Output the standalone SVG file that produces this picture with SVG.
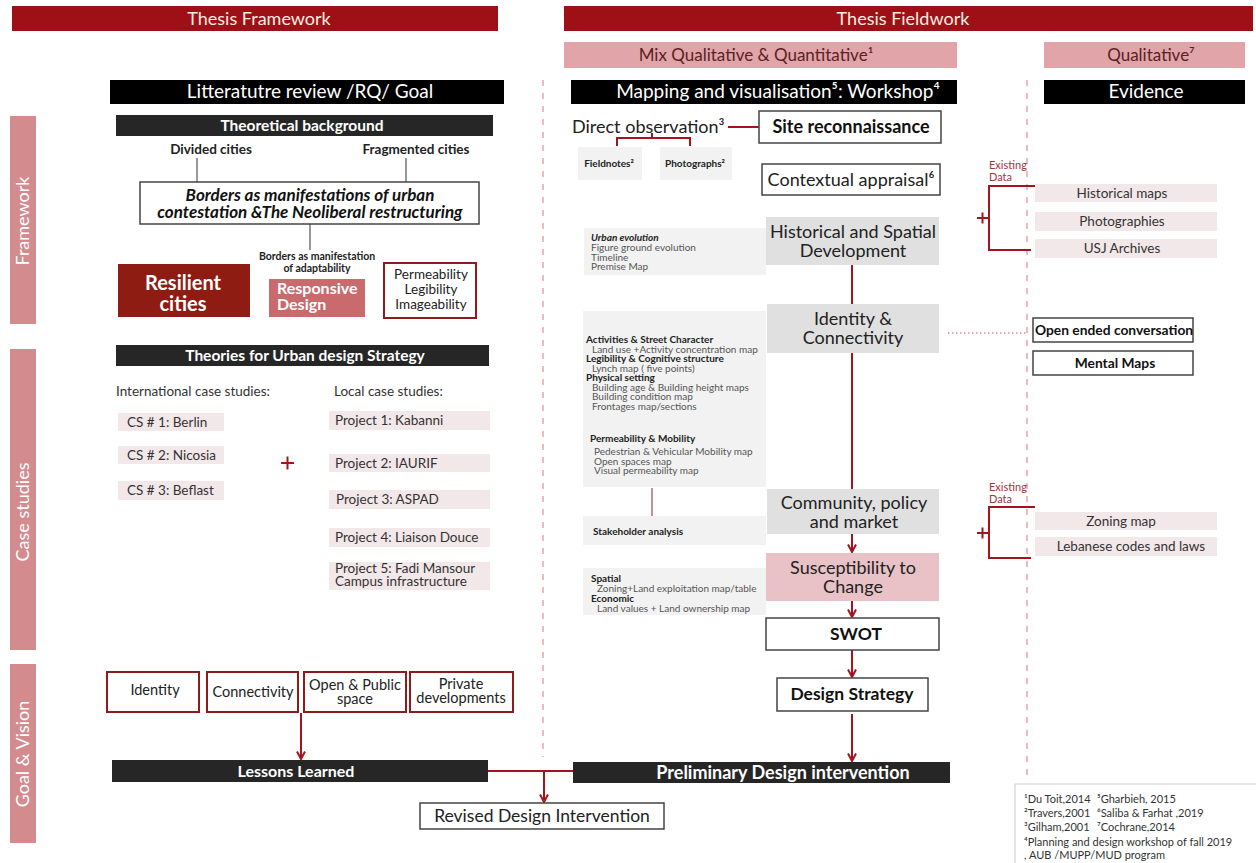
<svg xmlns="http://www.w3.org/2000/svg" width="1256" height="863" viewBox="0 0 1256 863">
<defs>
<marker id="ah" viewBox="0 0 10 10" refX="9" refY="5" markerWidth="10" markerHeight="10" markerUnits="userSpaceOnUse" orient="auto">
<path d="M1.5,1 L9,5 L1.5,9" fill="none" stroke="#a3141c" stroke-width="2"/>
</marker>
<style>
text{font-family:Lato,"Open Sans","Liberation Sans",sans-serif}
.c{text-anchor:middle}
.b{font-weight:bold}
.w{fill:#fff}
.red{fill:#9e1016}
.pink{fill:#e0a4a9}
.blk{fill:#000}
.dk{fill:#262626}
.side{fill:#d38b8e}
.box{fill:#fff;stroke:#444;stroke-width:1.5}
.rbox{fill:#fff;stroke:#8e1c1c;stroke-width:2}
.g1{fill:#e0e0e0}
.g2{fill:#f2f2f2}
.pk{fill:#f2e8ea}
.ln{stroke:#a3141c;stroke-width:2;fill:none}
.gl{stroke:#555;stroke-width:1.2;fill:none}
.dash{stroke:#e8a5ab;stroke-width:1.5;stroke-dasharray:6 7;fill:none}
.hd{font-size:18px;fill:#fbeee0}
.pt{font-size:17px;fill:#5a2222}
.bt{font-size:19px;fill:#fff}
.sm{font-size:10px;fill:#555}
.smb{font-size:10px;fill:#222;font-weight:bold}
.m{font-size:18px;fill:#222}
.cs{font-size:13.5px;fill:#333}
.ed{font-size:11px;fill:#a3343c}
.fn{font-size:11px;fill:#333}
.gv{font-size:14.5px;fill:#222}
</style>
</defs>

<!-- dashed separators -->
<g id="separators">
<line class="dash" x1="543" y1="80" x2="543" y2="757"/>
<line class="dash" x1="1027" y1="80" x2="1027" y2="780"/>
</g>

<!-- headers -->
<g id="hdr-framework"><rect class="red" x="12" y="6" width="486" height="25"/><text class="hd c" x="259" y="24.5">Thesis Framework</text></g>
<g id="hdr-fieldwork"><rect class="red" x="564" y="6" width="689" height="25"/><text class="hd c" x="903" y="24.5">Thesis Fieldwork</text></g>
<g id="hdr-mix"><rect class="pink" x="564" y="42" width="393" height="26"/><text class="pt c" x="756" y="61">Mix Qualitative &amp; Quantitative¹</text></g>
<g id="hdr-qual"><rect class="pink" x="1044" y="42" width="201" height="26"/><text class="pt c" x="1151" y="61">Qualitative⁷</text></g>
<g id="hdr-lit"><rect class="blk" x="110" y="80" width="394" height="24"/><text class="bt c" x="310" y="98">Litteratutre review /RQ/ Goal</text></g>
<g id="hdr-map"><rect class="blk" x="571" y="80" width="386" height="24"/><text class="bt c" x="778" y="98">Mapping and visualisation⁵: Workshop⁴</text></g>
<g id="hdr-evidence"><rect class="blk" x="1044" y="80" width="201" height="24"/><text class="bt c" x="1146" y="98">Evidence</text></g>

<!-- side labels -->
<g id="side-framework"><rect class="side" x="10" y="116" width="26" height="208"/><text class="w c" font-size="18" transform="translate(29,221) rotate(-90)">Framework</text></g>
<g id="side-case"><rect class="side" x="10" y="349" width="26" height="301"/><text class="w c" font-size="18" transform="translate(29,512) rotate(-90)">Case studies</text></g>
<g id="side-goal"><rect class="side" x="10" y="664" width="26" height="179"/><text class="w c" font-size="18" transform="translate(29,754) rotate(-90)">Goal &amp; Vision</text></g>

<!-- connectors -->
<g id="connectors">
<line class="gl" x1="197" y1="158" x2="197" y2="182"/>
<line class="gl" x1="406" y1="158" x2="406" y2="182"/>
<line class="gl" x1="310" y1="224" x2="310" y2="250"/>
<polyline class="ln" stroke-width="1.5" points="728,127 759,127"/>
<polyline class="ln" stroke-width="1.5" points="652,133 652,138"/>
<polyline class="ln" stroke-width="1.5" points="617,146 617,138 690,138 690,146"/>
<line class="ln" x1="852" y1="265" x2="852" y2="304"/>
<line class="ln" x1="852" y1="353" x2="852" y2="489"/>
<line x1="652" y1="488" x2="652" y2="516" stroke="#b76b74" stroke-width="1.5"/>
<line class="ln" x1="852" y1="534" x2="852" y2="552" marker-end="url(#ah)"/>
<line class="ln" x1="852" y1="601" x2="852" y2="617" marker-end="url(#ah)"/>
<line class="ln" x1="852" y1="650" x2="852" y2="677" marker-end="url(#ah)"/>
<line class="ln" x1="852" y1="714" x2="852" y2="761" marker-end="url(#ah)"/>
<line x1="948" y1="333" x2="1026" y2="333" stroke="#c4545c" stroke-width="1.2" stroke-dasharray="1.5 2.5"/>
<polyline class="ln" stroke-width="2" points="1035,186 989,186 989,250 1031,250"/>
<polyline class="ln" stroke-width="2" points="1035,507 989,507 989,558 1031,558"/>
<line class="ln" x1="301" y1="713" x2="301" y2="759" marker-end="url(#ah)"/>
<line class="ln" x1="488" y1="771" x2="573" y2="771"/>
<line class="ln" x1="544" y1="771" x2="544" y2="802" marker-end="url(#ah)"/>
</g>

<!-- plus signs -->
<g id="plus-case"><path class="ln" stroke-width="2.5" d="M281,463 H294 M287.5,456.5 V469.5"/></g>
<g id="plus-ev1"><path class="ln" stroke-width="2" d="M977,218 H988 M982.5,212.5 V223.5"/></g>
<g id="plus-ev2"><path class="ln" stroke-width="2" d="M977,533 H988 M982.5,527.5 V538.5"/></g>

<!-- Framework section -->
<g id="theoretical"><rect class="dk" x="116" y="115" width="377" height="21"/><text class="w b c" font-size="15.5" x="302" y="131">Theoretical background</text></g>
<g id="divided"><text class="b c" font-size="13.5" fill="#222" x="211" y="154">Divided cities</text></g>
<g id="fragmented"><text class="b c" font-size="13.5" fill="#222" x="416" y="154">Fragmented cities</text></g>
<g id="borders"><rect class="box" x="140" y="182" width="339" height="42"/>
<text class="b c" font-size="17" font-style="italic" fill="#111" x="310" y="201">Borders as manifestations of urban</text>
<text class="b c" font-size="17" font-style="italic" fill="#111" x="310" y="218">contestation &amp;The Neoliberal restructuring</text></g>
<g id="adapt"><text class="b c" font-size="10.5" fill="#222" x="317" y="260">Borders as manifestation</text><text class="b c" font-size="10.5" fill="#222" x="317" y="272">of adaptability</text></g>
<g id="resilient"><rect x="118" y="264" width="132" height="53" fill="#8e1c12"/><text class="w b c" font-size="20" x="183" y="290">Resilient</text><text class="w b c" font-size="20" x="183" y="311">cities</text></g>
<g id="responsive"><rect x="269" y="279" width="96" height="38" fill="#c96b6d"/><text class="w b" font-size="16" x="277" y="294">Responsive</text><text class="w b" font-size="16" x="277" y="310">Design</text></g>
<g id="permeability"><rect class="rbox" x="384" y="263" width="92" height="55"/><text class="c" font-size="13.5" fill="#222" x="431" y="279">Permeability</text><text class="c" font-size="13.5" fill="#222" x="431" y="294">Legibility</text><text class="c" font-size="13.5" fill="#222" x="431" y="309">Imageability</text></g>

<!-- Case studies section -->
<g id="theories"><rect class="dk" x="116" y="345" width="373" height="21"/><text class="w b c" font-size="15.5" x="305" y="361">Theories for Urban design Strategy</text></g>
<g id="intl"><text class="cs" font-size="14" x="116" y="396">International case studies:</text></g>
<g id="local"><text class="cs" font-size="14" x="334" y="396">Local case studies:</text></g>
<g id="cs1"><rect class="pk" x="118" y="413" width="106" height="18"/><text class="cs" x="127" y="427">CS # 1:  Berlin</text></g>
<g id="cs2"><rect class="pk" x="118" y="446" width="106" height="18"/><text class="cs" x="127" y="460">CS # 2:  Nicosia</text></g>
<g id="cs3"><rect class="pk" x="118" y="481" width="106" height="19"/><text class="cs" x="127" y="495">CS # 3:  Beflast</text></g>
<g id="p1"><rect class="pk" x="329" y="411" width="161" height="19"/><text class="cs" x="335" y="425">Project 1: Kabanni</text></g>
<g id="p2"><rect class="pk" x="329" y="454" width="161" height="18"/><text class="cs" x="335" y="468">Project 2:  IAURIF</text></g>
<g id="p3"><rect class="pk" x="329" y="490" width="161" height="19"/><text class="cs" x="336" y="504">Project 3: ASPAD</text></g>
<g id="p4"><rect class="pk" x="329" y="528" width="161" height="19"/><text class="cs" x="335" y="542">Project 4:  Liaison Douce</text></g>
<g id="p5"><rect class="pk" x="329" y="562" width="161" height="28"/><text class="cs" font-size="12.5" x="335" y="573">Project 5:  Fadi Mansour</text><text class="cs" font-size="12.5" x="335" y="586">Campus infrastructure</text></g>

<!-- Goal & Vision -->
<g id="g-identity"><rect class="rbox" x="107" y="672" width="92" height="40"/><text class="gv c" x="155" y="695">Identity</text></g>
<g id="g-connectivity"><rect class="rbox" x="207" y="672" width="91" height="40"/><text class="gv c" x="253" y="697">Connectivity</text></g>
<g id="g-open"><rect class="rbox" x="304" y="672" width="102" height="40"/><text class="gv c" x="355" y="690">Open &amp; Public</text><text class="gv c" x="355" y="704">space</text></g>
<g id="g-private"><rect class="rbox" x="410" y="672" width="103" height="40"/><text class="gv c" x="461" y="689">Private</text><text class="gv c" x="461" y="703">developments</text></g>
<g id="lessons"><rect class="dk" x="112" y="760" width="376" height="22"/><text class="w b c" font-size="16" x="296" y="777">Lessons Learned</text></g>
<g id="revised"><rect class="box" x="420" y="803" width="244" height="26"/><text class="c" font-size="17.5" fill="#222" x="542" y="822">Revised Design Intervention</text></g>

<!-- Fieldwork -->
<g id="direct"><text font-size="18" fill="#222" x="572" y="133">Direct observation³</text></g>
<g id="site"><rect class="box" x="759" y="111" width="182" height="32"/><text class="b c" font-size="18" fill="#111" x="851" y="133">Site reconnaissance</text></g>
<g id="fieldnotes"><rect class="g2" x="578" y="147" width="64" height="33"/><text class="smb c" x="609" y="167">Fieldnotes²</text></g>
<g id="photographs"><rect class="g2" x="660" y="147" width="72" height="33"/><text class="smb c" x="695" y="167">Photographs²</text></g>
<g id="contextual"><rect class="box" x="762" y="164" width="178" height="31"/><text class="m c" x="851" y="186">Contextual appraisal⁶</text></g>
<g id="urban-ev"><rect class="g2" x="584" y="228" width="182" height="47"/>
<text class="smb" font-style="italic" font-size="11.5" x="591" y="241">Urban evolution</text>
<text class="sm" font-size="10.5" x="591" y="251">Figure ground evolution</text>
<text class="sm" font-size="10.5" x="591" y="260.5">Timeline</text>
<text class="sm" font-size="10.5" x="591" y="270">Premise Map</text></g>
<g id="historical"><rect class="g1" x="766" y="217" width="173" height="48"/><text class="m c" x="853" y="238">Historical and Spatial</text><text class="m c" x="853" y="257">Development</text></g>
<g id="activities"><rect class="g2" x="583" y="311" width="183" height="176"/>
<text class="smb" x="586" y="343">Activities &amp; Street Character</text>
<text class="sm" x="592" y="352.5">Land use +Activity concentration map</text>
<text class="smb" x="586" y="362">Legibility &amp; Cognitive structure</text>
<text class="sm" x="592" y="371.5">Lynch map ( five points)</text>
<text class="smb" x="586" y="381">Physical setting</text>
<text class="sm" x="592" y="390.5">Building age &amp; Building height maps</text>
<text class="sm" x="592" y="400">Building condition map</text>
<text class="sm" x="592" y="409.5">Frontages map/sections</text>
<text class="smb" font-size="10.6" x="590" y="442">Permeability &amp; Mobility</text>
<text class="sm" x="594" y="455">Pedestrian &amp; Vehicular Mobility map</text>
<text class="sm" x="594" y="464.5">Open spaces map</text>
<text class="sm" x="594" y="474">Visual permeability map</text></g>
<g id="identity-conn"><rect class="g1" x="767" y="304" width="172" height="49"/><text class="m c" x="853" y="325">Identity &amp;</text><text class="m c" x="853" y="344">Connectivity</text></g>
<g id="stakeholder"><rect class="g2" x="583" y="516" width="183" height="29"/><text class="smb" font-size="11.5" x="593" y="535">Stakeholder analysis</text></g>
<g id="community"><rect class="g1" x="767" y="489" width="172" height="45"/><text class="m c" x="854" y="509">Community, policy</text><text class="m c" x="854" y="528">and market</text></g>
<g id="susceptibility"><rect x="766" y="553" width="173" height="48" fill="#e8c2c6"/><text class="m c" x="853" y="574">Susceptibility to</text><text class="m c" x="853" y="593">Change</text></g>
<g id="spatial"><rect class="g2" x="583" y="568" width="183" height="47"/>
<text class="smb" x="591" y="582">Spatial</text>
<text class="sm" font-size="10.5" x="597" y="592">Zoning+Land exploitation map/table</text>
<text class="smb" x="591" y="602">Economic</text>
<text class="sm" font-size="10.5" x="597" y="612">Land values + Land ownership map</text></g>
<g id="swot"><rect class="box" x="766" y="618" width="173" height="32"/><text class="b c" font-size="17.5" fill="#111" x="856" y="640">SWOT</text></g>
<g id="design-strategy"><rect class="box" x="777" y="678" width="151" height="33"/><text class="b c" font-size="17.5" fill="#111" x="852" y="700">Design Strategy</text></g>
<g id="preliminary"><rect class="dk" x="573" y="762" width="377" height="21"/><text class="w b c" font-size="18" x="783" y="779">Preliminary Design intervention</text></g>

<!-- Evidence -->
<g id="existing1"><text class="ed" x="989" y="169">Existing</text><text class="ed" x="989" y="181">Data</text></g>
<g id="hist-maps"><rect class="pk" x="1035" y="184" width="182" height="18"/><text class="cs c" x="1122" y="198">Historical maps</text></g>
<g id="photographies"><rect class="pk" x="1035" y="212" width="182" height="19"/><text class="cs c" x="1122" y="226">Photographies</text></g>
<g id="usj"><rect class="pk" x="1035" y="239" width="182" height="19"/><text class="cs c" x="1122" y="253">USJ Archives</text></g>
<g id="open-ended"><rect class="box" x="1033" y="318" width="160" height="24"/><text class="b" font-size="13.8" fill="#111" x="1035" y="335">Open ended conversation</text></g>
<g id="mental"><rect class="box" x="1033" y="351" width="160" height="24"/><text class="b c" font-size="13.8" fill="#111" x="1115" y="368">Mental Maps</text></g>
<g id="existing2"><text class="ed" x="989" y="491">Existing</text><text class="ed" x="989" y="503">Data</text></g>
<g id="zoning"><rect class="pk" x="1035" y="512" width="182" height="18"/><text class="cs c" x="1121" y="526">Zoning map</text></g>
<g id="lebanese"><rect class="pk" x="1035" y="537" width="182" height="19"/><text class="cs c" x="1131" y="551">Lebanese codes and laws</text></g>

<!-- footnotes -->
<g id="footnotes"><rect x="1015" y="784" width="250" height="90" fill="#fff" stroke="#ccc" stroke-width="1"/>
<text class="fn" x="1024" y="803">¹Du Toit,2014</text><text class="fn" x="1097" y="803">⁵Gharbieh, 2015</text>
<text class="fn" x="1024" y="817">²Travers,2001</text><text class="fn" x="1097" y="817">⁶Saliba &amp; Farhat ,2019</text>
<text class="fn" x="1024" y="831">³Gilham,2001</text><text class="fn" x="1097" y="831">⁷Cochrane,2014</text>
<text class="fn" x="1024" y="846">⁴Planning and design workshop of fall 2019</text>
<text class="fn" x="1024" y="859">, AUB /MUPP/MUD program</text></g>
</svg>
